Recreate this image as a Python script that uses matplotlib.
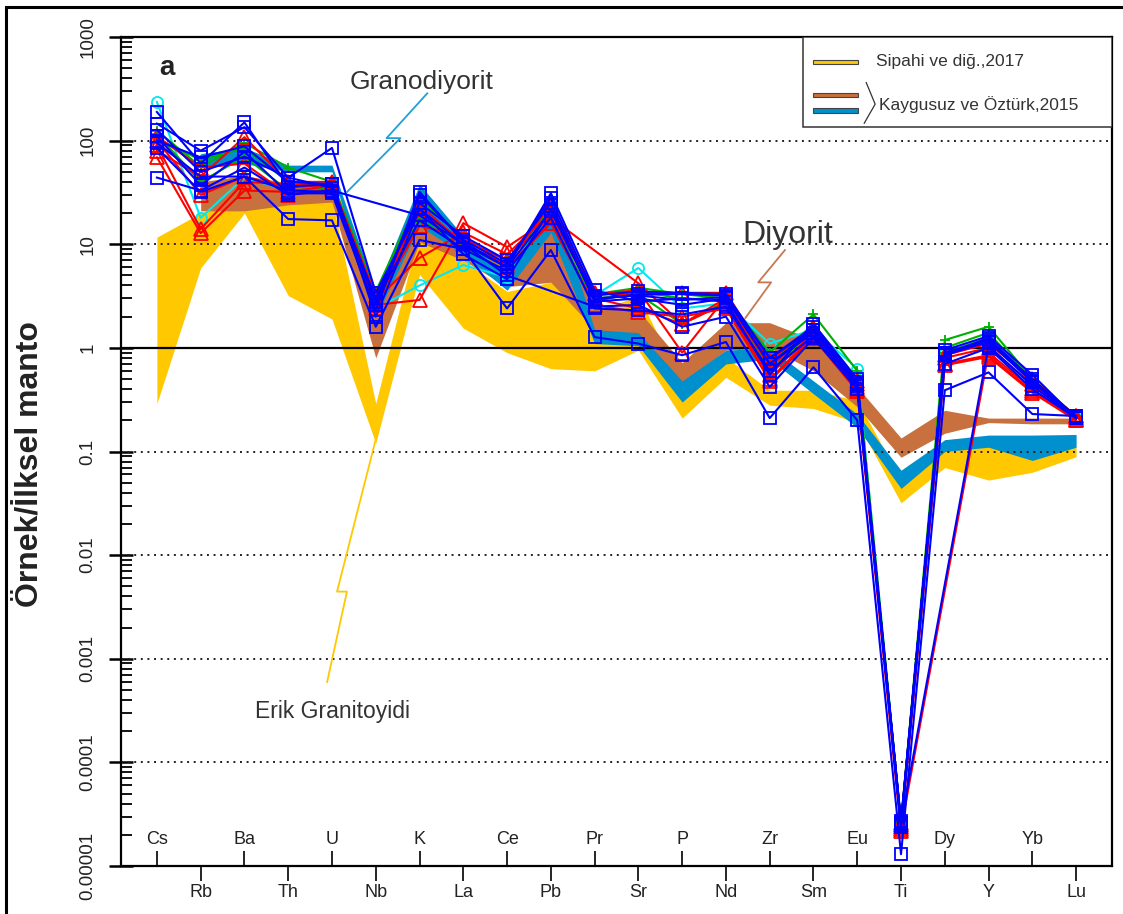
import numpy as np
import matplotlib.pyplot as plt
from matplotlib.patches import Rectangle
from matplotlib.ticker import LogLocator, NullFormatter

plt.rcParams['font.family'] = ['Liberation Sans', 'DejaVu Sans']

nan = np.nan
elements = ['Cs', 'Rb', 'Ba', 'Th', 'U', 'Nb', 'K', 'La', 'Ce', 'Pb', 'Pr',
            'Sr', 'P', 'Nd', 'Zr', 'Sm', 'Eu', 'Ti', 'Dy', 'Y', 'Yb', 'Lu']

# envelopes of earlier studies (upper / lower limits)
sipahi_hi = [11.7, 20, 27, 26, 27, 0.29, 14, 7.0, 3.5, 4.3, 2.2, 3.2, 0.45, 0.81,
             0.39, 0.39, 0.31, 0.053, 0.13, 0.137, 0.12, 0.11]
sipahi_lo = [0.29, 5.9, 20, 3.2, 1.9, 0.12, 5.1, 1.55, 0.9, 0.63, 0.6, 0.95, 0.21, 0.52,
             0.28, 0.26, 0.19, 0.032, 0.070, 0.053, 0.063, 0.089]
kaygusuz_d_hi = [nan, 40, 46, 39, 36, 2.5, 26, 11, 5.8, 16, 2.5, 2.3, 0.72, 1.75,
                 1.75, 1.2, 0.42, 0.135, 0.25, 0.21, 0.21, 0.21]
kaygusuz_d_lo = [nan, 21, 21, 24, 25.5, 0.8, 10.5, 7, 3.9, 4.3, 1.5, 1.2, 0.46, 0.95,
                 1.0, 0.6, 0.27, 0.088, 0.15, 0.19, 0.185, 0.185]
kaygusuz_g_hi = [nan, 75, 85, 58, 58, 3.5, 38, 12, 4.8, 33, 1.5, 1.4, 0.48, 0.95,
                 1.0, 0.48, 0.23, 0.066, 0.13, 0.144, 0.144, 0.146]
kaygusuz_g_lo = [nan, 55, 60, 50, 50, 2.0, 15, 8, 3.6, 13, 1.1, 1.05, 0.30, 0.70,
                 0.78, 0.36, 0.17, 0.044, 0.10, 0.11, 0.082, 0.11]

# Erik granitoid samples
blue_samples = [
    [189, 60, 150, 36, 38, 2.6, 30, 11, 6.5, 28, 3.2, 3.5, 3.4, 3.3, 0.80, 1.5, 0.45, 2.6e-5, 0.90, 1.20, 0.50, 0.21],
    [146, 80, 135, 44, 35, 3.0, 25, 12, 7.0, 25, 2.8, 3.0, 2.6, 3.0, 0.70, 1.4, 0.45, 2.7e-5, 0.85, 1.25, 0.48, 0.22],
    [95, 45, 45, 17.5, 17, 1.6, 11, 9, 2.4, 8.8, 1.27, 1.1, 0.85, 1.14, 0.21, 0.65, 0.20, 1.3e-5, 0.39, 0.58, 0.23, 0.22],
    [127, 50, 70, 44, 85, 3.4, 22, 10, 6.0, 21, 3.0, 3.2, 2.9, 3.1, 0.70, 1.5, 0.46, 2.5e-5, 0.85, 1.15, 0.47, 0.21],
    [44, 33, 55, 30, 33, nan, 19, 10, 5.0, nan, 2.5, 2.6, 1.6, 2.0, 0.42, 1.24, 0.40, 2.5e-5, 0.70, 1.00, 0.40, 0.21],
    [110, 37, 78, 31, 31, 2.3, 32, 10.5, 6.0, 31, 3.6, 2.8, 3.0, 2.8, 0.55, 1.7, 0.50, 2.4e-5, 0.95, 1.30, 0.55, 0.21],
    [85, 32, 45, 33, 32, 2.8, 17, 9, 5.5, 18, 2.4, 2.3, 2.1, 2.5, 0.60, 1.3, 0.43, 2.6e-5, nan, 1.05, 0.43, 0.21],
    [100, 69, 88, 40, 38, 2.0, 22, 8, 4.6, 22, 2.9, 3.3, 3.3, 3.2, 0.80, 1.6, 0.47, 2.5e-5, 0.90, 1.15, 0.47, 0.22],
]
red_samples = [
    [69, 12.8, 33, 32, 37, 2.6, 2.9, 16, 9.4, 18, nan, 4.2, 1.7, 3.0, 0.55, 1.4, 0.42, 2.4e-5, 0.70, 0.85, 0.38, 0.21],
    [90, 14, 40, 38, 36, 2.9, 7.4, 13, 8.0, 20, 3.0, 2.4, 1.7, 2.7, 0.50, 1.3, 0.40, 2.3e-5, nan, 0.90, 0.40, 0.20],
    [100, 30, 45, 35, 38, 3.2, 20, 11, 7.0, 19, 3.3, 3.6, 0.9, 3.1, 0.65, 1.5, 0.45, 2.5e-5, 0.80, 1.00, 0.45, 0.22],
    [80, 45, 108, 40, 40, 2.4, 24, 10, 6.5, 24, 3.4, 3.2, 3.4, 3.4, 0.75, 1.6, 0.48, 2.6e-5, 0.85, 1.10, 0.50, 0.22],
    [110, 55, 60, 30, 34, 2.7, 15, 12, 6.0, 16, 2.6, 2.2, 2.0, 2.4, 0.48, 1.25, 0.38, 2.2e-5, 0.68, 0.82, 0.37, 0.20],
]
green_samples = [
    [125, 56, 95, 55, 40, 3.5, 28, 11, 7.0, 22, 3.3, 3.8, 3.3, 3.0, 0.90, 2.1, 0.60, 2.6e-5, 1.19, 1.60, 0.50, 0.22],
    [105, 65, 85, 40, 36, 2.8, 20, 10, 6.0, 20, 3.0, 3.3, 1.7, 2.8, 0.70, 1.7, 0.50, 2.5e-5, 1.00, 1.40, 0.48, 0.22],
    [115, 40, 70, 33, 35, 2.5, 18, 9, 5.5, 17, 2.8, 3.5, 3.0, 2.9, 0.60, 1.5, 0.46, 2.6e-5, 0.90, 1.25, 0.46, 0.21],
]
cyan_samples = [
    [236, 18, 44, 33, 32, 2.4, 4.0, 6.3, 4.8, 25, 3.2, 5.9, 2.4, 2.7, 1.1, 1.5, 0.63, 2.5e-5, 0.90, 1.20, 0.50, 0.21],
]

W, H = 1123, 914
fig = plt.figure(figsize=(W / 100, H / 100), dpi=100)
ax = fig.add_axes([121 / W, 1 - 866 / H, (1112 - 121) / W, (866 - 37) / H])
x = np.arange(len(elements))

yellow, brown, blue = '#FFC800', '#C8703E', '#0090CE'
for hi, lo, col in [(sipahi_hi, sipahi_lo, yellow),
                    (kaygusuz_d_hi, kaygusuz_d_lo, brown),
                    (kaygusuz_g_hi, kaygusuz_g_lo, blue)]:
    hi, lo = np.array(hi), np.array(lo)
    m = ~np.isnan(hi)
    ax.fill_between(x[m], lo[m], hi[m], color=col, lw=0, zorder=1)

# reference lines
for v in [100, 10, 0.1, 0.01, 0.001, 0.0001]:
    ax.axhline(v, color='#222222', ls=(0, (1, 2.4)), lw=1.4, zorder=2)
ax.axhline(1, color='black', lw=1.6, zorder=2)

groups = [
    (cyan_samples, '#00E8F0', 'o', 8, 1.3),
    (green_samples, '#00B000', '+', 7, 1.3),
    (red_samples, '#FF0000', '^', 10, 1.3),
    (blue_samples, '#0000FF', 's', 9, 1.3),
]
for samples, col, mk, ms, mew in groups:
    for s in samples:
        s = np.array(s, dtype=float)
        m = ~np.isnan(s)
        ax.plot(x[m], s[m], color=col, lw=1.5, marker=mk, ms=ms, mfc='none',
                mec=col, mew=mew, zorder=3)

ax.set_yscale('log')
ax.set_ylim(1e-5, 1e3)
ax.set_xlim(-0.82, 21.82)

yt = [1e-5, 1e-4, 1e-3, 1e-2, 0.1, 1, 10, 100, 1000]
ax.set_yticks(yt, ['0.00001', '0.0001', '0.001', '0.01', '0.1', '1', '10', '100', '1000'])
ax.yaxis.set_minor_locator(LogLocator(base=10, subs=np.arange(2, 10), numticks=100))
ax.yaxis.set_minor_formatter(NullFormatter())
ax.tick_params(axis='y', which='major', direction='inout', length=17, width=1.8,
               labelsize=13.5, labelrotation=90, pad=9, labelcolor='#222222')
ax.tick_params(axis='y', which='minor', direction='in', length=8, width=1.3)
for lbl in ax.get_yticklabels():
    lbl.set_va('center')

narrow = ['Liberation Sans Narrow', 'Liberation Sans', 'DejaVu Sans']
ax.set_xticks(x[1::2], elements[1::2])
ax.set_xticks(x[0::2], elements[0::2], minor=True)
ax.tick_params(axis='x', which='major', direction='out', length=11, width=1.2,
               labelsize=13, pad=2, labelcolor='#222222', labelfontfamily=narrow)
ax.tick_params(axis='x', which='minor', direction='in', length=11, width=1.2,
               labelsize=13, pad=-13, labelcolor='#222222', labelfontfamily=narrow)
for t in ax.xaxis.get_minor_ticks():
    t.label1.set_va('bottom')

for sp in ax.spines.values():
    sp.set_linewidth(1.6)
    sp.set_zorder(5)

fig.text(30 / W, 1 - 464 / H, 'Örnek/İlksel manto', rotation=90, fontsize=23,
         fontweight='bold', ha='center', va='center', color='#222222')
ax.text(0.046, 0.963, 'a', transform=ax.transAxes, fontsize=20, fontweight='bold',
        ha='center', va='center', color='#222222')

# labels with leader lines
ta = ax.transAxes
ax.text(0.231, 0.946, 'Granodiyorit', transform=ta, fontsize=19, color='#333333',
        ha='left', va='center')
ax.plot([0.309, 0.268, 0.282, 0.228], [0.932, 0.878, 0.878, 0.813], transform=ta,
        color='#1E9FDA', lw=1.3, zorder=4)
ax.text(0.627, 0.761, 'Diyorit', transform=ta, fontsize=23, color='#333333',
        ha='left', va='center')
ax.plot([0.670, 0.643, 0.656, 0.630], [0.743, 0.704, 0.704, 0.661], transform=ta,
        color='#C8784E', lw=1.3, zorder=4)
ax.text(0.213, 0.186, 'Erik Granitoyidi', transform=ta, fontsize=16.5, color='#333333',
        ha='center', va='center')
ax.plot([0.208, 0.228, 0.218, 0.258], [0.222, 0.331, 0.331, 0.519], transform=ta,
        color='#FFC800', lw=1.3, zorder=4)

# legend
ax.add_patch(Rectangle((0.688, 0.891), 0.312, 0.109, transform=ta, facecolor='white',
                       edgecolor='#333333', lw=1.1, zorder=6))
for yc, col in [(0.970, yellow), (0.930, brown), (0.911, blue)]:
    ax.add_patch(Rectangle((0.698, yc - 0.0028), 0.046, 0.0056, transform=ta,
                           facecolor=col, edgecolor='#444444', lw=0.8, zorder=7))
ax.plot([0.752, 0.761, 0.750], [0.945, 0.919, 0.896], transform=ta, color='#333333',
        lw=0.9, zorder=7)
ax.text(0.762, 0.970, 'Sipahi ve diğ.,2017', transform=ta, fontsize=12.5,
        color='#333333', ha='left', va='center', zorder=8)
ax.text(0.765, 0.919, 'Kaygusuz ve Öztürk,2015', transform=ta, fontsize=12.5,
        color='#333333', ha='left', va='center', zorder=8)

# outer frame
fig.patches.append(Rectangle((6 / W, -0.1), 2, 1.1 - 7 / H, transform=fig.transFigure,
                             fill=False, edgecolor='black', lw=2.2))

fig.savefig('out.png', dpi=100)
